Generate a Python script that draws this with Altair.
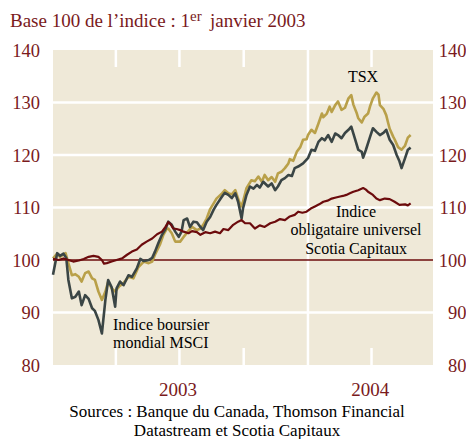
import altair as alt
import pandas as pd

# ---------------- data ----------------
tsx_dates = [
    "2003-01-01", "2003-01-07", "2003-01-11", "2003-01-19", "2003-01-23", "2003-01-28",
    "2003-02-02", "2003-02-07", "2003-02-11", "2003-02-16", "2003-02-21", "2003-02-26",
    "2003-03-02", "2003-03-07", "2003-03-12", "2003-03-17", "2003-03-21", "2003-03-26",
    "2003-03-31", "2003-04-06", "2003-04-12", "2003-04-19", "2003-04-26", "2003-05-03",
    "2003-05-11", "2003-05-18", "2003-05-23", "2003-05-27", "2003-06-03", "2003-06-08",
    "2003-06-13", "2003-06-15", "2003-06-20", "2003-06-25", "2003-07-02", "2003-07-07",
    "2003-07-12", "2003-07-19", "2003-07-26", "2003-07-31", "2003-08-04", "2003-08-09",
    "2003-08-14", "2003-08-19", "2003-08-23", "2003-08-31", "2003-09-04", "2003-09-09",
    "2003-09-14", "2003-09-19", "2003-09-23", "2003-09-27", "2003-09-30", "2003-10-05",
    "2003-10-12", "2003-10-17", "2003-10-22", "2003-10-27", "2003-10-31", "2003-11-05",
    "2003-11-10", "2003-11-15", "2003-11-19", "2003-11-24", "2003-11-29", "2003-12-04",
    "2003-12-06", "2003-12-11", "2003-12-16", "2003-12-21", "2003-12-25", "2003-12-30",
    "2004-01-01", "2004-01-06", "2004-01-11", "2004-01-16", "2004-01-21", "2004-01-23",
    "2004-01-28", "2004-02-01", "2004-02-04", "2004-02-09", "2004-02-13", "2004-02-18",
    "2004-02-23", "2004-02-28", "2004-03-03", "2004-03-06", "2004-03-11", "2004-03-13",
    "2004-03-18", "2004-03-22", "2004-03-27", "2004-03-30", "2004-04-03", "2004-04-08",
    "2004-04-11", "2004-04-13", "2004-04-18", "2004-04-22", "2004-04-25", "2004-04-27",
    "2004-05-02", "2004-05-04", "2004-05-09", "2004-05-14", "2004-05-19", "2004-05-23",
    "2004-05-27",
]
tsx_values = [
    100.3, 101.2, 100.6, 101.3, 99.4, 97.1,
    97.3, 96.8, 95.9, 97.5, 97.8, 96.5,
    96.2, 94.0, 92.4, 94.0, 95.9, 94.6,
    94.0, 95.0, 95.6, 96.8, 96.5, 98.6,
    99.7, 99.4, 99.7, 101.0, 102.9, 104.8,
    106.0, 106.0, 105.1, 103.5, 103.5, 104.4,
    105.2, 106.3, 105.7, 106.0, 106.7, 107.9,
    109.7, 110.8, 111.7, 112.7, 113.3, 112.7,
    112.5, 113.3, 111.7, 110.2, 111.1, 113.7,
    115.2, 115.0, 115.9, 114.9, 116.2, 115.2,
    115.8, 114.9, 116.5, 116.8, 117.5, 118.4,
    119.2, 118.9, 120.6, 121.5, 122.9, 123.0,
    123.8, 124.8, 124.2, 126.0, 127.9, 127.2,
    127.9, 129.2, 128.2, 129.5, 130.2, 128.6,
    129.0, 130.8, 131.4, 129.6, 127.9, 127.0,
    126.2, 127.3, 127.9, 129.3, 130.8, 131.9,
    131.5, 129.5, 128.8, 127.6, 126.0, 125.0,
    123.5, 123.0, 121.5, 121.0, 121.8, 123.3,
    123.8,
]

msci_dates = [
    "2003-01-01", "2003-01-07", "2003-01-11", "2003-01-16", "2003-01-20", "2003-01-23",
    "2003-01-28", "2003-02-02", "2003-02-07", "2003-02-11", "2003-02-16", "2003-02-21",
    "2003-02-26", "2003-03-02", "2003-03-07", "2003-03-12", "2003-03-17", "2003-03-21",
    "2003-03-26", "2003-03-31", "2003-04-02", "2003-04-07", "2003-04-12", "2003-04-19",
    "2003-04-24", "2003-05-01", "2003-05-06", "2003-05-11", "2003-05-18", "2003-05-23",
    "2003-05-27", "2003-06-01", "2003-06-06", "2003-06-11", "2003-06-15", "2003-06-20",
    "2003-06-25", "2003-06-30", "2003-07-04", "2003-07-07", "2003-07-12", "2003-07-16",
    "2003-07-21", "2003-07-26", "2003-07-31", "2003-08-04", "2003-08-09", "2003-08-14",
    "2003-08-19", "2003-08-23", "2003-08-31", "2003-09-04", "2003-09-09", "2003-09-14",
    "2003-09-19", "2003-09-23", "2003-09-28", "2003-09-30", "2003-10-05", "2003-10-10",
    "2003-10-15", "2003-10-20", "2003-10-24", "2003-10-29", "2003-11-05", "2003-11-10",
    "2003-11-15", "2003-11-19", "2003-11-24", "2003-11-29", "2003-12-04", "2003-12-09",
    "2003-12-13", "2003-12-18", "2003-12-25", "2004-01-01", "2004-01-06", "2004-01-11",
    "2004-01-16", "2004-01-21", "2004-01-25", "2004-01-30", "2004-02-04", "2004-02-09",
    "2004-02-13", "2004-02-18", "2004-02-23", "2004-02-28", "2004-03-03", "2004-03-08",
    "2004-03-13", "2004-03-18", "2004-03-20", "2004-03-24", "2004-03-30", "2004-04-03",
    "2004-04-08", "2004-04-13", "2004-04-18", "2004-04-22", "2004-04-27", "2004-05-02",
    "2004-05-07", "2004-05-11", "2004-05-14", "2004-05-19", "2004-05-23", "2004-05-27",
]
msci_values = [
    97.2, 101.3, 100.8, 101.2, 100.4, 96.2,
    92.7, 93.0, 94.0, 91.4, 93.3, 92.6,
    90.8, 90.3, 88.6, 86.0, 92.4, 96.2,
    94.8, 91.1, 94.6, 95.9, 95.2, 97.1,
    96.8, 98.4, 100.2, 99.8, 100.0, 100.4,
    101.6, 103.3, 104.8, 105.9, 107.3, 106.7,
    105.4, 104.4, 105.4, 107.6, 107.9, 106.3,
    107.3, 107.2, 106.3, 105.7, 107.3, 108.2,
    109.6, 110.5, 112.1, 112.8, 112.4, 111.8,
    112.7, 111.1, 107.9, 109.8, 112.4, 114.0,
    113.6, 114.3, 113.8, 114.9, 114.0, 114.6,
    113.3, 114.0, 115.2, 115.6, 116.2, 116.0,
    117.5, 117.8, 118.4, 119.4, 121.0, 120.8,
    122.5, 123.2, 122.8, 123.8, 122.5, 124.1,
    123.8, 123.2, 124.2, 124.8, 125.4, 123.2,
    121.0, 120.6, 119.5, 121.0, 123.5, 125.1,
    124.4, 123.8, 124.2, 124.8, 122.9, 121.9,
    120.0, 118.8, 117.5, 119.4, 121.0, 121.4,
]

bond_dates = [
    "2003-01-01", "2003-01-09", "2003-01-16", "2003-01-23", "2003-01-30", "2003-02-07",
    "2003-02-14", "2003-02-21", "2003-02-28", "2003-03-07", "2003-03-12", "2003-03-15",
    "2003-03-19", "2003-03-26", "2003-04-02", "2003-04-10", "2003-04-17", "2003-04-24",
    "2003-05-01", "2003-05-08", "2003-05-15", "2003-05-23", "2003-05-30", "2003-06-06",
    "2003-06-11", "2003-06-15", "2003-06-18", "2003-06-22", "2003-06-27", "2003-07-02",
    "2003-07-07", "2003-07-14", "2003-07-19", "2003-07-26", "2003-07-31", "2003-08-07",
    "2003-08-14", "2003-08-21", "2003-08-28", "2003-09-02", "2003-09-09", "2003-09-16",
    "2003-09-23", "2003-09-28", "2003-10-03", "2003-10-10", "2003-10-17", "2003-10-24",
    "2003-10-31", "2003-11-08", "2003-11-15", "2003-11-22", "2003-11-29", "2003-12-06",
    "2003-12-13", "2003-12-18", "2003-12-24", "2003-12-30", "2004-01-05", "2004-01-11",
    "2004-01-17", "2004-01-23", "2004-01-29", "2004-02-04", "2004-02-10", "2004-02-16",
    "2004-02-20", "2004-02-25", "2004-03-01", "2004-03-06", "2004-03-13", "2004-03-20",
    "2004-03-24", "2004-03-27", "2004-04-03", "2004-04-08", "2004-04-13", "2004-04-20",
    "2004-04-27", "2004-05-04", "2004-05-11", "2004-05-19", "2004-05-23", "2004-05-27",
]
bond_values = [
    100.2, 100.0, 100.3, 100.0, 99.7, 99.9,
    100.2, 100.6, 100.8, 100.6, 100.0, 99.3,
    99.4, 99.7, 100.0, 100.3, 101.0, 101.6,
    102.0, 102.9, 103.5, 104.1, 104.9, 105.4,
    106.3, 107.2, 106.9, 106.0, 105.9, 105.7,
    105.4, 105.1, 105.5, 105.3, 104.8, 105.3,
    105.1, 105.4, 105.1, 105.9, 105.7, 106.7,
    107.3, 107.6, 107.0, 107.0, 106.0, 106.6,
    106.3, 107.0, 107.3, 107.8, 107.6, 108.3,
    108.6, 109.2, 109.0, 109.2, 109.8, 110.2,
    110.6, 111.1, 111.3, 111.7, 111.9, 112.1,
    112.2, 112.4, 112.7, 113.0, 113.3, 113.7,
    113.4, 113.0, 112.4, 111.7, 111.4, 111.7,
    111.6, 111.1, 110.5, 110.6, 110.4, 110.8,
]

y_ticks = [80, 90, 100, 110, 120, 130, 140]
grid_values = [90, 110, 120, 130]
base_value = [100]
quarter_dates = ["2003-04-01", "2003-07-01", "2003-10-01", "2004-04-01"]
year_start_dates = ["2004-01-01"]
year_labels = ["2003", "2004"]
year_label_dates = ["2003-06-29", "2004-03-30"]
x_domain = ["2003-01-01", "2004-06-28"]

title_parts = ["Base 100 de l’indice : 1", "er", "janvier 2003"]
tsx_label = "TSX"
msci_label = ["Indice boursier", "mondial MSCI"]
bond_label = ["Indice", "obligataire universel", "Scotia Capitaux"]
source_label = ["Sources : Banque du Canada, Thomson Financial",
                "Datastream et Scotia Capitaux"]

# ---------------- style ----------------
SERIF = "Liberation Serif"
RED_TEXT = "#7a1a1c"
RED_LINE = "#6c0b0d"
GOLD = "#b9a049"
GRAY = "#3a4545"
BG = "#efe9d8"
W, H = 380, 315


def ms(d):
    return int(pd.Timestamp(d, tz="UTC").value // 10**6)


xscale = alt.Scale(type="utc", domain=[ms(d) for d in x_domain])
yscale = alt.Scale(domain=[80, 140], nice=False, zero=False)

tsx_df = pd.DataFrame({"date": tsx_dates, "value": tsx_values})
msci_df = pd.DataFrame({"date": msci_dates, "value": msci_values})
bond_df = pd.DataFrame({"date": bond_dates, "value": bond_values})
years_df = pd.DataFrame({"date": year_label_dates, "label": year_labels})

one = pd.DataFrame({"k": [0]})

grid = alt.Chart(pd.DataFrame({"v": grid_values})).mark_rule(
    color="white", strokeWidth=2.5
).encode(y=alt.Y("v:Q", scale=yscale, axis=None))

year_line = alt.Chart(pd.DataFrame({"d": year_start_dates})).mark_rule(
    color="white", strokeWidth=2.5
).encode(x=alt.X("d:T", scale=xscale, axis=None))

qdf = pd.DataFrame({"d": quarter_dates})
q_top = alt.Chart(qdf).mark_rule(color="white", strokeWidth=2.5).encode(
    x=alt.X("d:T", scale=xscale, axis=None), y=alt.value(0), y2=alt.value(17)
)
q_bot = alt.Chart(qdf).mark_rule(color="white", strokeWidth=2.5).encode(
    x=alt.X("d:T", scale=xscale, axis=None), y=alt.value(H - 17), y2=alt.value(H)
)

axis_common = dict(values=y_ticks, ticks=False, tickSize=0, domain=False, grid=False,
                   labelFont=SERIF, labelFontSize=18.5, labelColor=RED_TEXT, title=None)

base_line = alt.Chart(pd.DataFrame({"v": base_value})).mark_rule(
    color=RED_LINE, strokeWidth=1.6
).encode(y=alt.Y("v:Q", scale=yscale,
                 axis=alt.Axis(orient="left", labelPadding=13.5, **axis_common)))

right_axis_layer = alt.Chart(pd.DataFrame({"v": base_value})).mark_rule(
    opacity=0
).encode(y=alt.Y("v:Q", scale=yscale,
                 axis=alt.Axis(orient="right", labelAlign="right", labelPadding=33,
                               **axis_common)))

year_text = alt.Chart(years_df).mark_text(
    align="center", baseline="alphabetic", font=SERIF, fontSize=19, color=RED_TEXT
).encode(x=alt.X("date:T", scale=xscale, axis=None), y=alt.value(H + 31), text="label:N")


def series(df, color, width):
    return alt.Chart(df).mark_line(color=color, strokeWidth=width, strokeJoin="round").encode(
        x=alt.X("date:T", scale=xscale, axis=None),
        y=alt.Y("value:Q", scale=yscale, axis=None),
    )


tsx_line = series(tsx_df, GOLD, 2.6)
msci_line = series(msci_df, GRAY, 2.6)
bond_line = series(bond_df, RED_LINE, 2.2)


def label(text, x, y, size=16, align="left", color="black", line_height=18):
    return alt.Chart(one).mark_text(
        text=text, align=align, baseline="alphabetic", font=SERIF, fontSize=size,
        color=color, lineHeight=line_height
    ).encode(x=alt.value(x), y=alt.value(y))


texts = [
    label(title_parts[0], -43, -23, size=19, color=RED_TEXT),
    label(title_parts[1], 137, -29, size=15, color=RED_TEXT),
    label(title_parts[2], 157, -23, size=19, color=RED_TEXT),
    label(tsx_label, 310, 32, align="center"),
    label(msci_label, 60, 280, line_height=18),
    label(bond_label, 303, 167, align="center", line_height=18.3),
    label(source_label[0], 184, 367, size=17, align="center"),
    label(source_label[1], 184, 385.5, size=17, align="center"),
]

chart = alt.layer(
    grid, year_line, q_top, q_bot, base_line, right_axis_layer,
    tsx_line, msci_line, bond_line, year_text, *texts
).resolve_axis(y="independent").properties(
    width=W, height=H,
    autosize=alt.AutoSizeParams(type="none"),
    padding={"left": 45, "top": 42, "right": 33, "bottom": 74},
    background="white",
).configure_view(fill=BG, stroke=None)

chart.save("out.html", embed_options={"renderer": "svg", "actions": False})
